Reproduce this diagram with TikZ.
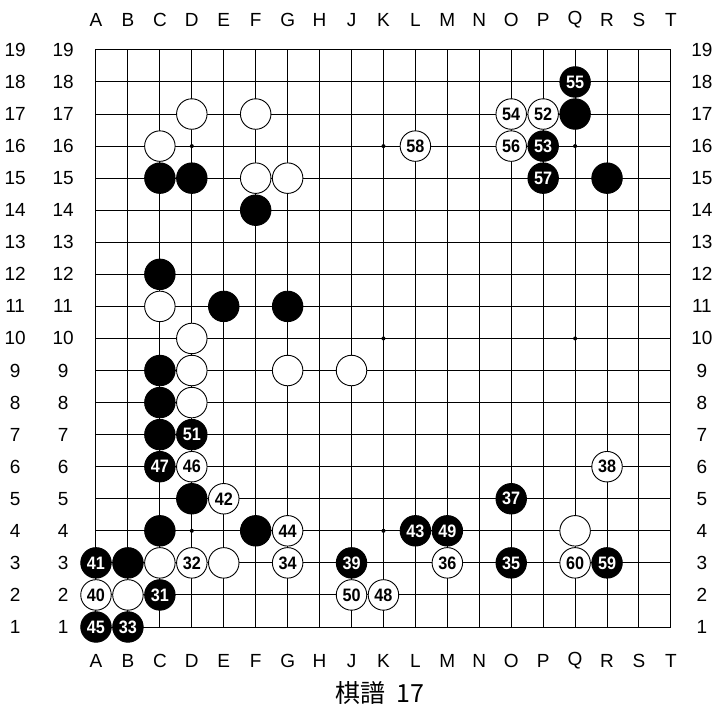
\documentclass[tikz,border=0pt]{standalone}
\usepackage{fontspec}
\setmainfont{Liberation Sans}
\newfontfamily\cjkfont{Noto Sans CJK JP}
\newfontfamily\numfont{Liberation Sans}[FakeStretch=0.9]
\newcommand\stB[3]{\node[bst] (b-#1-#2) at (#1-1,#2-1) {#3};}
\newcommand\stW[3]{\node[wst] (w-#1-#2) at (#1-1,#2-1) {#3};}
\begin{document}
\begin{tikzpicture}[x=31.94pt,y=32.06pt,
  gridline/.style={line width=1pt, line cap=rect},
  lbl/.style={font=\fontsize{19}{19}\selectfont, inner sep=0},
  stone/.style={circle, draw=black, line width=0.9pt, minimum size=30.5pt, inner sep=0,
    font=\numfont\fontsize{18}{18}\selectfont\bfseries},
  bst/.style={stone, fill=black, text=white},
  wst/.style={stone, fill=white, text=black},
  hoshi/.style={circle, fill=black, minimum size=4pt, inner sep=0}]
\useasboundingbox (-96pt,-80pt) rectangle (619pt,627pt);
% grid
\foreach \i in {0,...,18} {
  \draw[gridline] (\i,0) -- (\i,18);
  \draw[gridline] (0,\i) -- (18,\i);
}
% star points
\foreach \a/\b [count=\k] in {3/3,9/3,15/3,3/9,9/9,15/9,3/15,9/15,15/15}
  \node[hoshi] (hoshi\k) at (\a,\b) {};
% column labels
\foreach \l [count=\i from 0] in {A,B,C,D,E,F,G,H,J,K,L,M,N,O,P,Q,R,S,T} {
  \node[lbl] (top\l) at (\i,18.93) {\l};
  \node[lbl] (bot\l) at (\i,-1.06) {\l};
}
% row labels
\foreach \r in {1,...,19} {
  \node[lbl] (lo\r) at (-2.53,\r-1) {\r};
  \node[lbl] (li\r) at (-1.03,\r-1) {\r};
  \node[lbl] (ri\r) at (18.97,\r-1) {\r};
}
% black stones
\stB{16}{17}{} \stB{17}{15}{} \stB{3}{15}{} \stB{4}{15}{} \stB{6}{14}{}
\stB{3}{12}{} \stB{5}{11}{} \stB{7}{11}{} \stB{3}{9}{} \stB{3}{8}{}
\stB{3}{7}{} \stB{4}{5}{} \stB{3}{4}{} \stB{6}{4}{} \stB{2}{3}{}
% white stones
\stW{4}{17}{} \stW{6}{17}{} \stW{3}{16}{} \stW{6}{15}{} \stW{7}{15}{}
\stW{3}{11}{} \stW{4}{10}{} \stW{4}{9}{} \stW{7}{9}{} \stW{9}{9}{}
\stW{4}{8}{} \stW{16}{4}{} \stW{3}{3}{} \stW{5}{3}{} \stW{2}{2}{}
% numbered black
\stB{16}{18}{55} \stB{15}{16}{53} \stB{15}{15}{57} \stB{4}{7}{51}
\stB{3}{6}{47} \stB{14}{5}{37} \stB{11}{4}{43} \stB{12}{4}{49}
\stB{1}{3}{41} \stB{9}{3}{39} \stB{14}{3}{35} \stB{17}{3}{59}
\stB{3}{2}{31} \stB{1}{1}{45} \stB{2}{1}{33}
% numbered white
\stW{14}{17}{54} \stW{15}{17}{52} \stW{11}{16}{58} \stW{14}{16}{56}
\stW{4}{6}{46} \stW{17}{6}{38} \stW{5}{5}{42} \stW{7}{4}{44}
\stW{4}{3}{32} \stW{7}{3}{34} \stW{12}{3}{36} \stW{16}{3}{60}
\stW{1}{2}{40} \stW{9}{2}{50} \stW{10}{2}{48}
% caption
\node[font=\cjkfont\fontsize{25}{25}\selectfont, inner sep=0] (caption) at (8.89,-2.06) {棋譜\hspace{0.45em}17};
\end{tikzpicture}
\end{document}
